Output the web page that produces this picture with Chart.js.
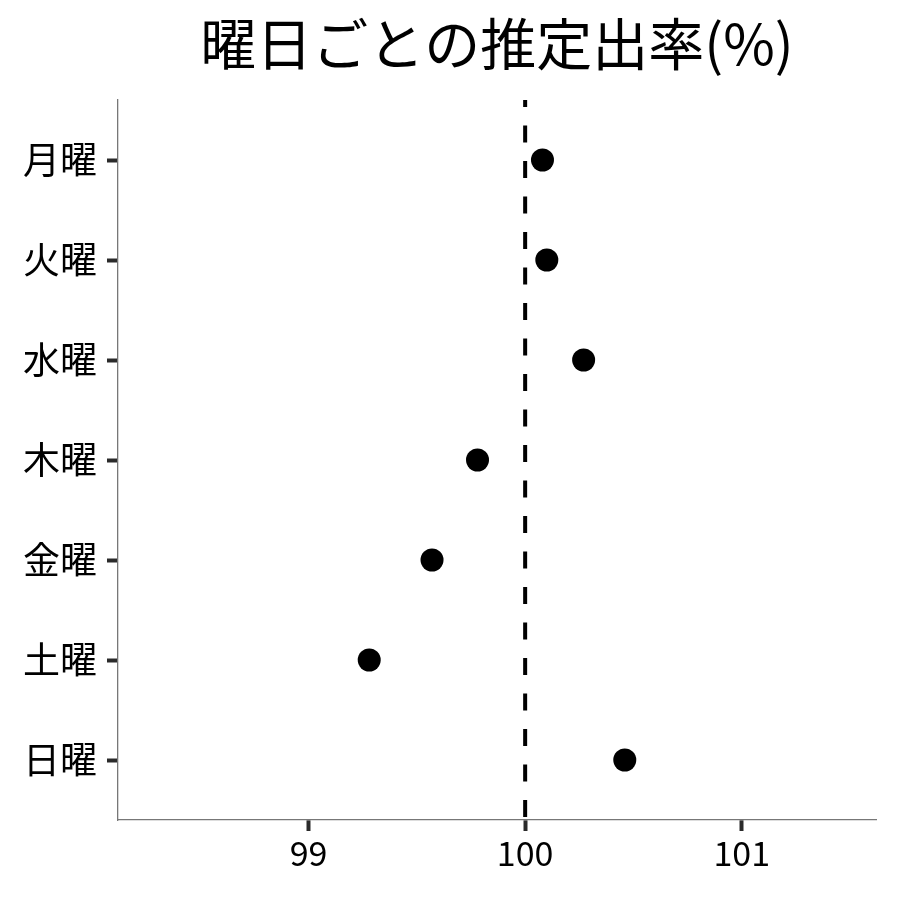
<!DOCTYPE html>
<html><head><meta charset="utf-8">
<script src="https://cdn.jsdelivr.net/npm/chart.js@4.4.1/dist/chart.umd.min.js"></script>
<style>html,body{margin:0;padding:0;background:#fff}#wrap{width:900px;height:900px}</style>
</head><body><div id="wrap"><canvas id="c" width="900" height="900"></canvas></div>
<script>
const categories = ['月曜','火曜','水曜','木曜','金曜','土曜','日曜'];
const rateValues = [100.08, 100.10, 100.27, 99.78, 99.57, 99.28, 100.46];
const referenceValue = 100;
const xTickValues = [99, 100, 101];
const xRange = [98.12, 101.62];
const yRange = [-0.6, 6.6];
const titleText = '曜日ごとの推定出率(%)';

const FONT = '"Noto Sans CJK JP", "Noto Sans", sans-serif';

new Chart(document.getElementById('c'), {
  type: 'scatter',
  data: {
    datasets: [
      {
        type: 'line',
        data: [{x: referenceValue, y: yRange[0]}, {x: referenceValue, y: yRange[1]}],
        borderColor: '#000',
        borderWidth: 4,
        borderDash: [17, 18.5],
        borderDashOffset: 10,
        pointRadius: 0,
        fill: false,
        order: 2
      },
      {
        data: rateValues.map((v, i) => ({x: v, y: i})),
        backgroundColor: '#000',
        borderWidth: 0,
        pointRadius: 11.5,
        pointHoverRadius: 11.5,
        order: 1
      }
    ]
  },
  options: {
    responsive: false,
    animation: false,
    devicePixelRatio: 1,
    layout: {padding: {left: 0, right: 24, top: 0, bottom: 0}},
    plugins: {
      legend: {display: false},
      tooltip: {enabled: false},
      title: {
        display: true,
        text: titleText,
        fullSize: false,
        color: '#000',
        font: {family: FONT, size: 56, weight: 'normal'},
        padding: {top: 10, bottom: 22.8}
      }
    },
    scales: {
      x: {
        type: 'linear',
        min: xRange[0],
        max: xRange[1],
        afterBuildTicks: s => { s.ticks = xTickValues.map(v => ({value: v})); },
        afterFit: s => { s.height = 80; },
        grid: {drawOnChartArea: false, drawTicks: true, tickLength: 11, tickWidth: 4, tickColor: '#2a2a2a'},
        border: {display: true, color: '#777', width: 1.3},
        ticks: {color: '#000', font: {family: FONT, size: 34}, padding: 2, callback: v => String(v)}
      },
      y: {
        type: 'linear',
        min: yRange[0],
        max: yRange[1],
        reverse: true,
        afterBuildTicks: s => { s.ticks = categories.map((_, i) => ({value: i})); },
        afterFit: s => { s.width = 118; },
        grid: {drawOnChartArea: false, drawTicks: true, tickLength: 11, tickWidth: 4, tickColor: '#2a2a2a'},
        border: {display: true, color: '#777', width: 1.3},
        ticks: {color: '#000', font: {family: FONT, size: 37}, padding: 10, callback: v => categories[v]}
      }
    }
  }
});
</script>
</body></html>
